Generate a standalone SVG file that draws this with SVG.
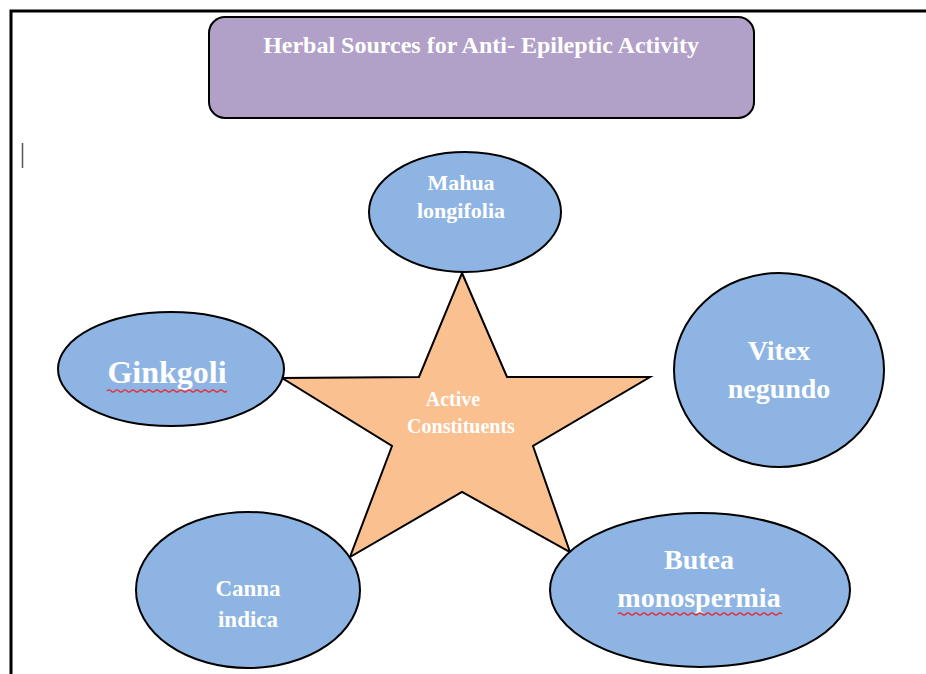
<svg xmlns="http://www.w3.org/2000/svg" width="926" height="674" viewBox="0 0 926 674">
<style>
.node{fill:#8EB4E3;stroke:#000;stroke-width:2}
.star{fill:#FAC090;stroke:#000;stroke-width:2;stroke-linejoin:miter}
.t{font-family:"Liberation Serif","Times New Roman",serif;font-weight:bold;fill:#fff;text-anchor:middle}
.wavy{fill:none;stroke:#E0303A;stroke-width:1.2}
</style>
<rect width="926" height="674" fill="#fff"/>
<path d="M11 674 V11 H926" fill="none" stroke="#000" stroke-width="3"/>
<line x1="22.5" y1="143" x2="22.5" y2="168" stroke="#555" stroke-width="1.5"/>
<g id="title">
<rect x="209" y="17" width="545" height="101" rx="16" fill="#B1A0C7" stroke="#000" stroke-width="2"/>
<text class="t" x="481" y="53" font-size="24">Herbal Sources for Anti- Epileptic Activity</text>
</g>
<g id="connectors"></g>
<g id="star">
<polygon class="star" points="462,273 507,377 650,377 533,446 570,552 462,492 350,557 392,446 282,378 419,377"/>
<text class="t" x="453" y="406" font-size="20">Active</text>
<text class="t" x="461" y="433" font-size="20">Constituents</text>
</g>
<g id="mahua">
<ellipse class="node" cx="465" cy="212" rx="96" ry="60"/>
<text class="t" x="461" y="190" font-size="22">Mahua</text>
<text class="t" x="461" y="218" font-size="22">longifolia</text>
</g>
<g id="ginkgoli">
<ellipse class="node" cx="171" cy="369" rx="113" ry="57"/>
<text class="t" x="167" y="383" font-size="32">Ginkgoli</text>
<path class="wavy" d="M107 391 q2 -2 4 0 t4 0 t4 0 t4 0 t4 0 t4 0 t4 0 t4 0 t4 0 t4 0 t4 0 t4 0 t4 0 t4 0 t4 0 t4 0 t4 0 t4 0 t4 0 t4 0 t4 0 t4 0 t4 0 t4 0 t4 0 t4 0 t4 0 t4 0 t4 0 t4 0"/>
</g>
<g id="vitex">
<ellipse class="node" cx="779" cy="370" rx="105" ry="97"/>
<text class="t" x="779" y="360" font-size="28">Vitex</text>
<text class="t" x="779" y="398" font-size="28">negundo</text>
</g>
<g id="canna">
<ellipse class="node" cx="248" cy="590" rx="112" ry="78"/>
<text class="t" x="248" y="596" font-size="23">Canna</text>
<text class="t" x="248" y="627" font-size="23">indica</text>
</g>
<g id="butea">
<ellipse class="node" cx="700" cy="590" rx="150" ry="77"/>
<text class="t" x="699" y="569" font-size="28">Butea</text>
<text class="t" x="699" y="607" font-size="28">monospermia</text>
<path class="wavy" d="M618 614 q2 -2 4 0 t4 0 t4 0 t4 0 t4 0 t4 0 t4 0 t4 0 t4 0 t4 0 t4 0 t4 0 t4 0 t4 0 t4 0 t4 0 t4 0 t4 0 t4 0 t4 0 t4 0 t4 0 t4 0 t4 0 t4 0 t4 0 t4 0 t4 0 t4 0 t4 0 t4 0 t4 0 t4 0 t4 0 t4 0 t4 0 t4 0 t4 0 t4 0 t4 0 t4 0"/>
</g>
</svg>
